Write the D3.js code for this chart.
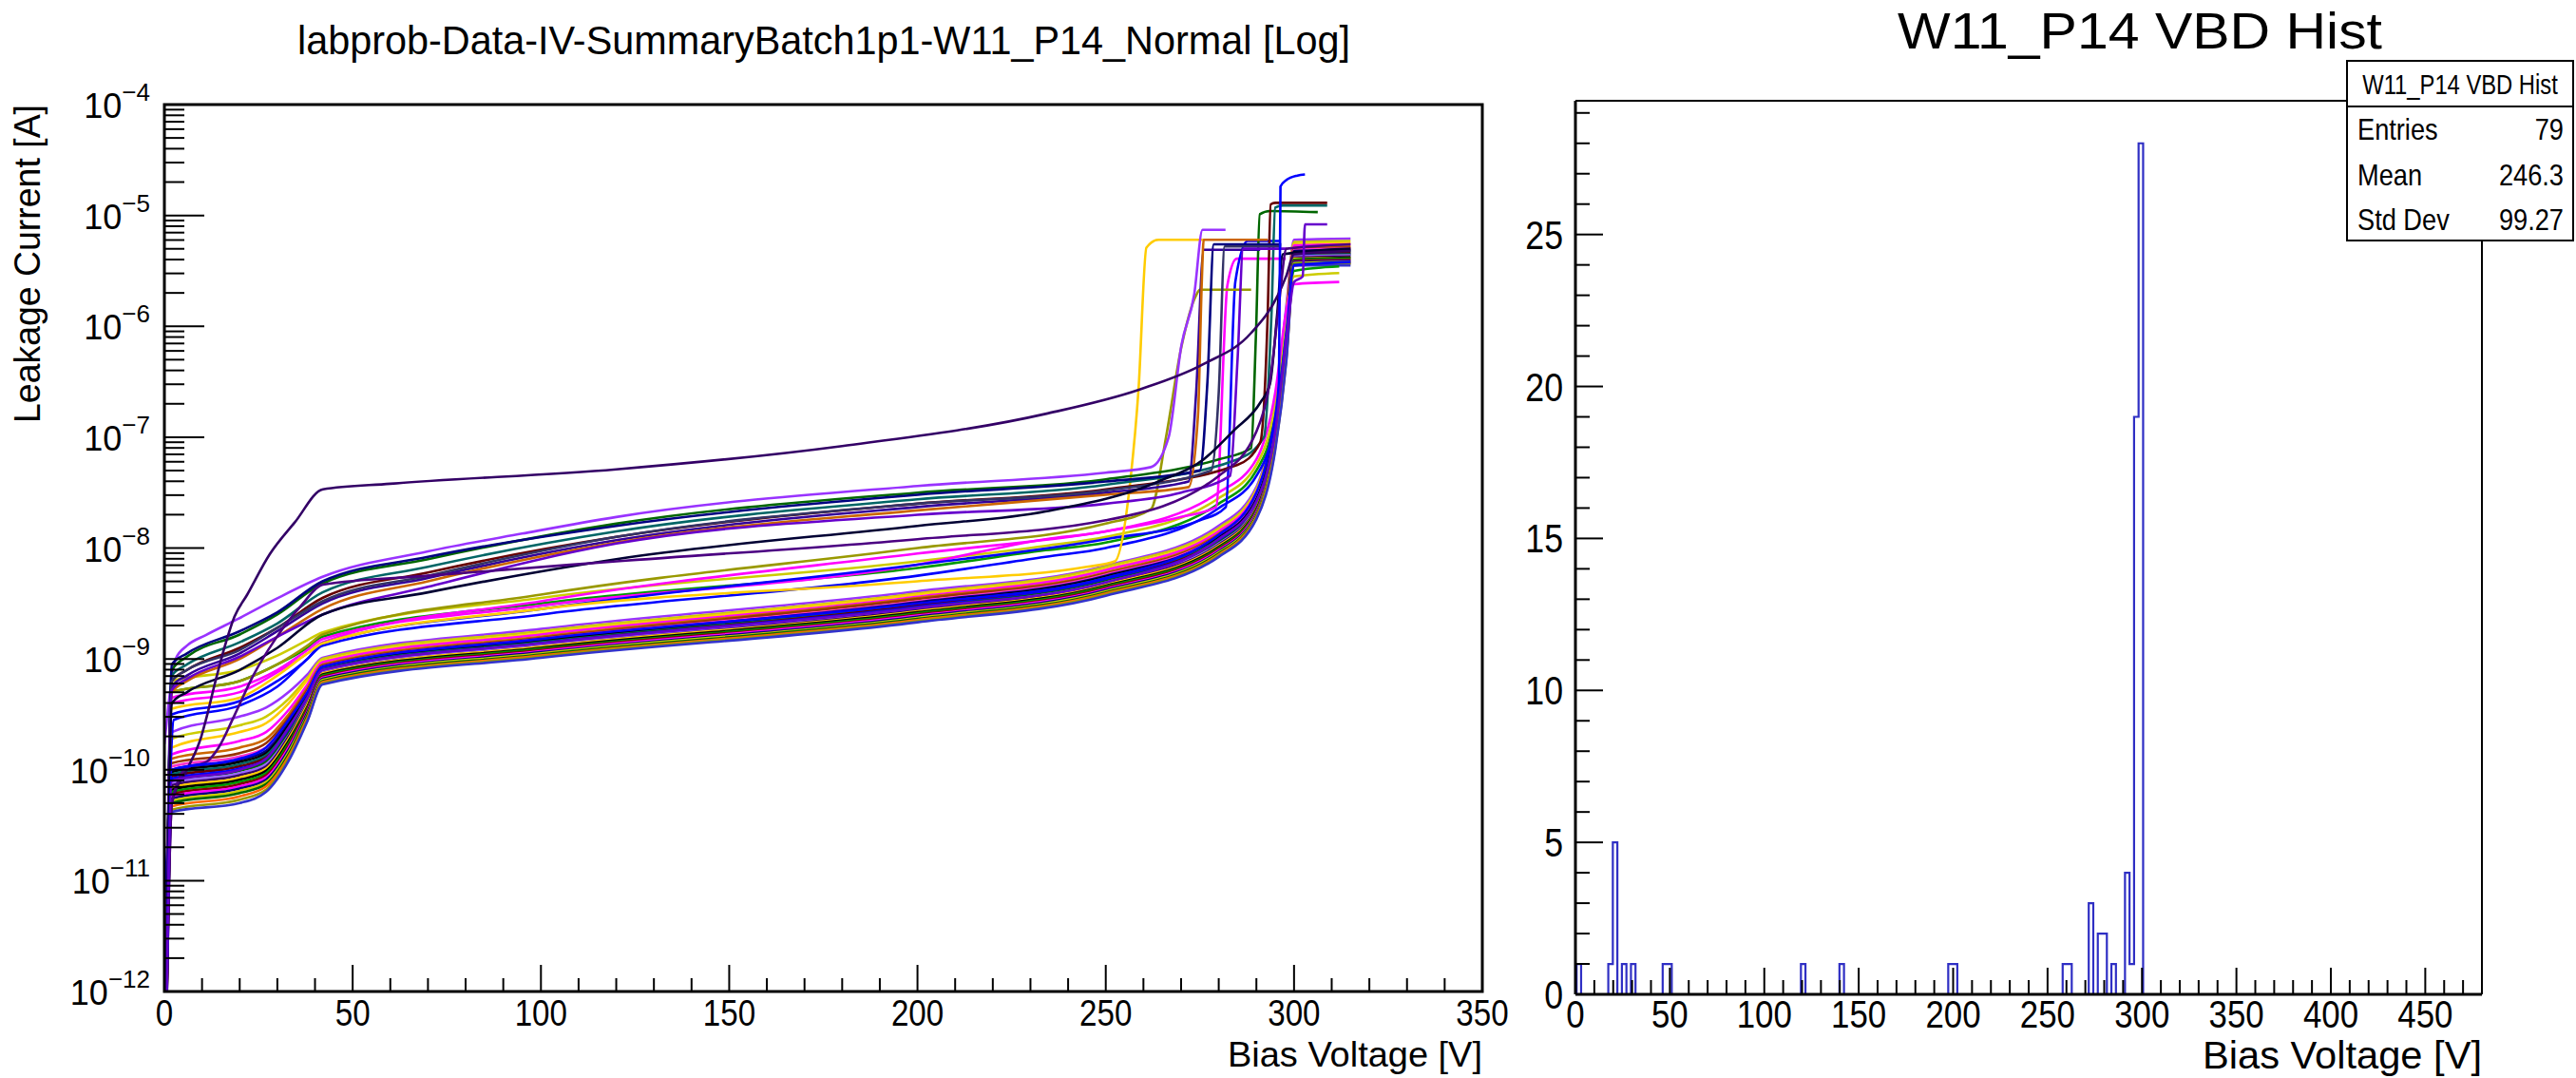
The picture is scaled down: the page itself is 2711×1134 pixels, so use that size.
<!DOCTYPE html>
<html>
<head>
<meta charset="utf-8">
<script src="https://cdn.jsdelivr.net/npm/d3@7"></script>
<style>
  body { margin: 0; background: #fff; }
  svg { display: block; }
  text { font-family: "Liberation Sans", Arial, Helvetica, sans-serif; fill: #000; }
</style>
</head>
<body>
<svg id="chart" width="2711" height="1134"></svg>
<script>
/// IV CURVES (log10 of leakage current in A) ///
const lowV = [0, 2, 20, 27, 33, 38, 42, 100, 200, 250, 280, 290, 295, 298, 300, 315];
const lowLog = [
  [-13.5, -9.66, -9.52, -9.44, -9.3, -9.14, -8.99, -8.73, -8.39, -8.16, -7.8, -7.45, -6.72, -5.8, -5.22, -5.21],
  [-13.5, -9.72, -9.6, -9.52, -9.36, -9.17, -9.0, -8.75, -8.41, -8.17, -7.82, -7.47, -6.75, -5.85, -5.24, -5.23],
  [-13.5, -9.8, -9.66, -9.58, -9.4, -9.19, -9.02, -8.77, -8.42, -8.19, -7.84, -7.49, -6.78, -5.88, -5.26, -5.25],
  [-13.5, -9.86, -9.74, -9.66, -9.46, -9.23, -9.03, -8.78, -8.44, -8.2, -7.85, -7.5, -6.8, -5.9, -5.27, -5.26],
  [-13.5, -9.9, -9.8, -9.72, -9.5, -9.26, -9.05, -8.8, -8.45, -8.22, -7.87, -7.52, -6.83, -5.94, -5.29, -5.28],
  [-13.5, -9.94, -9.85, -9.76, -9.53, -9.28, -9.06, -8.81, -8.46, -8.23, -7.88, -7.53, -6.85, -5.96, -5.3, -5.29],
  [-13.5, -9.97, -9.88, -9.8, -9.56, -9.3, -9.07, -8.82, -8.48, -8.24, -7.89, -7.55, -6.86, -5.98, -5.31, -5.3],
  [-13.5, -10.0, -9.91, -9.83, -9.58, -9.31, -9.08, -8.83, -8.49, -8.25, -7.9, -7.56, -6.88, -6.0, -5.32, -5.31],
  [-13.5, -10.02, -9.93, -9.85, -9.6, -9.33, -9.08, -8.84, -8.5, -8.26, -7.91, -7.57, -6.9, -6.02, -5.33, -5.32],
  [-13.5, -10.04, -9.95, -9.87, -9.62, -9.34, -9.09, -8.85, -8.51, -8.27, -7.92, -7.58, -6.91, -6.04, -5.34, -5.33],
  [-13.5, -10.06, -9.97, -9.89, -9.64, -9.35, -9.1, -8.86, -8.52, -8.28, -7.93, -7.59, -6.92, -6.05, -5.35, -5.34],
  [-13.5, -10.08, -9.99, -9.91, -9.65, -9.36, -9.1, -8.86, -8.53, -8.29, -7.94, -7.6, -6.93, -6.07, -5.36, -5.35],
  [-13.5, -10.1, -10.01, -9.93, -9.67, -9.38, -9.11, -8.87, -8.54, -8.3, -7.95, -7.61, -6.94, -6.08, -5.37, -5.35],
  [-13.5, -10.12, -10.03, -9.95, -9.69, -9.39, -9.12, -8.88, -8.55, -8.31, -7.96, -7.62, -6.95, -6.1, -5.37, -5.36],
  [-13.5, -10.14, -10.05, -9.97, -9.7, -9.4, -9.13, -8.89, -8.56, -8.32, -7.97, -7.63, -6.96, -6.11, -5.38, -5.37],
  [-13.5, -10.16, -10.07, -9.99, -9.72, -9.41, -9.13, -8.89, -8.57, -8.33, -7.98, -7.64, -6.97, -6.13, -5.39, -5.38],
  [-13.5, -10.18, -10.09, -10.01, -9.74, -9.43, -9.14, -8.9, -8.58, -8.34, -7.99, -7.65, -6.98, -6.14, -5.4, -5.38],
  [-13.5, -10.2, -10.11, -10.03, -9.76, -9.44, -9.15, -8.91, -8.59, -8.35, -8.0, -7.66, -6.99, -6.16, -5.4, -5.39],
  [-13.5, -10.22, -10.13, -10.05, -9.78, -9.45, -9.16, -8.92, -8.6, -8.36, -8.01, -7.67, -7.0, -6.17, -5.41, -5.4],
  [-13.5, -10.24, -10.15, -10.07, -9.8, -9.47, -9.17, -8.93, -8.61, -8.37, -8.02, -7.68, -7.01, -6.19, -5.42, -5.41],
  [-13.5, -10.26, -10.17, -10.09, -9.82, -9.48, -9.18, -8.94, -8.62, -8.38, -8.03, -7.69, -7.02, -6.2, -5.42, -5.41],
  [-13.5, -10.28, -10.19, -10.11, -9.84, -9.5, -9.19, -8.95, -8.63, -8.39, -8.04, -7.7, -7.04, -6.22, -5.43, -5.42],
  [-13.5, -10.3, -10.21, -10.13, -9.86, -9.51, -9.2, -8.96, -8.64, -8.4, -8.05, -7.71, -7.06, -6.24, -5.44, -5.43],
  [-13.5, -10.33, -10.24, -10.15, -9.88, -9.53, -9.21, -8.97, -8.65, -8.41, -8.06, -7.72, -7.08, -6.26, -5.45, -5.43],
  [-13.5, -10.36, -10.27, -10.18, -9.9, -9.55, -9.22, -8.98, -8.66, -8.42, -8.07, -7.73, -7.1, -6.28, -5.45, -5.44],
  [-13.5, -10.38, -10.3, -10.2, -9.92, -9.56, -9.23, -8.99, -8.67, -8.43, -8.08, -7.74, -7.12, -6.3, -5.45, -5.45],
];
const lowColors = ["#9933ff", "#cccc00", "#ffcc00", "#ff00ff", "#cc6600", "#993300", "#ff33cc", "#000080",
  "#000000", "#006666", "#660000", "#0000ff", "#006600", "#9966ff", "#330066", "#ffcc00", "#000000",
  "#009900", "#800000", "#ff00ff", "#000080", "#cccc00", "#006600", "#ff6600", "#999900", "#3333cc"];

// [V, log10 I] pairs
const midCurves = [
  [[0, -13.5], [2, -9.3], [20, -9.2], [30, -9.05], [38, -8.9], [42, -8.8], [100, -8.5], [200, -8.18], [234, -8.02], [250, -7.95], [280, -7.6], [290, -7.3], [295, -6.8], [298, -6.0], [300, -5.5], [312, -5.46]],
  [[0, -13.5], [2, -9.2], [20, -9.1], [30, -8.97], [38, -8.83], [42, -8.76], [100, -8.45], [200, -8.12], [234, -7.98], [250, -7.9], [280, -7.55], [290, -7.25], [295, -6.7], [298, -5.9], [300, -5.55], [312, -5.52]],
  [[0, -13.5], [2, -9.35], [20, -9.25], [30, -9.1], [38, -8.92], [42, -8.82], [100, -8.52], [200, -8.15], [234, -7.92], [250, -7.85], [280, -7.5], [290, -7.2], [295, -6.6], [298, -5.85], [300, -5.62], [312, -5.6]],
  [[0, -11.3], [1, -10.5], [2.5, -9.55], [20, -9.42], [30, -9.25], [38, -9.0], [42, -8.88], [100, -8.6], [200, -8.25], [234, -8.08], [250, -8.0], [280, -7.64], [290, -7.35], [295, -6.85], [298, -6.05], [300, -5.45], [315, -5.42]],
  [[0, -13.5], [2, -9.4], [20, -9.3], [30, -9.12], [38, -8.95], [42, -8.85], [100, -8.48], [200, -8.05], [250, -7.85], [270, -7.72], [279.3, -7.63], [282.3, -5.63], [284.8, -5.39], [297.8, -5.39]],
  [[0, -13.5], [2, -9.5], [20, -9.38], [30, -9.2], [38, -9.0], [42, -8.86], [100, -8.55], [200, -8.15], [250, -7.92], [275, -7.75], [281.9, -7.63], [284.4, -5.6], [287.7, -5.23], [296.4, -5.23]],
  [[0, -13.5], [2, -9.45], [20, -9.35], [30, -9.15], [38, -8.95], [42, -8.86], [100, -8.55], [200, -8.3], [245, -8.17], [252.4, -8.12], [256.6, -7.37], [258.7, -6.57], [260.8, -5.29], [264, -5.22], [276, -5.22]],
  [[0, -13.5], [2, -9.3], [20, -9.2], [30, -9.05], [38, -8.88], [42, -8.78], [100, -8.42], [200, -8.0], [250, -7.78], [262, -7.65], [266, -7.0], [270, -6.2], [274, -5.72], [275, -5.67], [288.6, -5.67]],
];
const midColors = ["#009900", "#cccc00", "#ff00ff", "#0000ff", "#ff00ff", "#0000ff", "#ffcc00", "#999900"];

const highCurves = [
  [[0, -9.77], [3, -9.0], [6, -8.88], [11, -8.785], [19.5, -8.64], [29.6, -8.46], [42, -8.26], [70, -8.03], [95, -7.87], [120, -7.72], [200, -7.44], [250, -7.32], [262, -7.27], [266.7, -7.0], [270.1, -6.17], [273.5, -5.71], [275.7, -5.13], [281.8, -5.13]],
  [[0, -13.5], [2, -9.1], [6, -8.98], [20, -8.78], [30, -8.6], [42, -8.32], [70, -8.1], [120, -7.78], [200, -7.5], [250, -7.38], [280, -7.2], [288.6, -7.1], [289.9, -6.06], [290.9, -4.99], [293.6, -4.96], [306.3, -4.97]],
  [[0, -13.5], [2, -9.15], [6, -9.05], [20, -8.85], [30, -8.68], [42, -8.4], [70, -8.17], [120, -7.85], [200, -7.56], [250, -7.43], [285, -7.2], [292, -7.0], [294, -5.9], [295, -4.93], [297, -4.91], [308.8, -4.91]],
  [[0, -13.5], [2, -9.2], [6, -9.1], [20, -8.9], [30, -8.72], [42, -8.45], [70, -8.22], [120, -7.9], [200, -7.6], [250, -7.47], [285, -7.25], [291, -7.05], [293, -5.9], [293.8, -4.9], [295, -4.886], [308.8, -4.886]],
  [[0, -13.5], [2, -9.05], [6, -8.95], [20, -8.75], [30, -8.58], [42, -8.3], [70, -8.08], [120, -7.8], [200, -7.52], [250, -7.4], [275, -7.3], [277, -6.5], [278.7, -5.26], [296.6, -5.26]],
  [[0, -13.5], [2, -9.25], [6, -9.15], [20, -8.95], [30, -8.75], [42, -8.5], [70, -8.27], [120, -7.93], [200, -7.63], [250, -7.5], [272, -7.4], [274, -6.6], [276, -5.31], [291, -5.31]],
  [[0, -13.5], [2, -9.3], [6, -9.2], [20, -9.0], [30, -8.8], [42, -8.55], [70, -8.3], [120, -7.95], [200, -7.66], [250, -7.52], [272, -7.45], [274.5, -6.8], [275.5, -5.6], [276, -5.22], [293, -5.22]],
  [[0, -13.5], [2, -9.2], [6, -9.1], [20, -8.92], [30, -8.72], [42, -8.48], [70, -8.25], [120, -7.9], [200, -7.6], [250, -7.48], [278, -7.3], [280, -6.6], [281.6, -5.28], [296.6, -5.28]],
  [[0, -13.5], [2, -9.28], [6, -9.18], [20, -8.98], [30, -8.8], [42, -8.6], [70, -8.35], [120, -7.96], [200, -7.7], [250, -7.6], [270, -7.5], [283, -7.35], [285, -6.3], [286.5, -5.3], [298, -5.3]],
  [[0, -13.5], [2, -9.4], [6, -9.3], [20, -9.1], [30, -8.9], [42, -8.6], [70, -8.4], [120, -8.1], [200, -7.8], [234, -7.67], [264, -7.4], [276, -7.2], [284, -6.94], [291, -6.69], [293.6, -6.52], [295.5, -5.9], [297, -5.35], [315, -5.3]],
];
const highColors = ["#9933ff", "#006600", "#006666", "#660000", "#000080", "#330099", "#cc6600", "#333366", "#6600cc", "#000033"];

const oddCurves = [
  [[0, -13.5], [2, -10.3], [6, -10.0], [9.8, -9.7], [11.1, -9.54], [13.5, -9.21], [16.1, -8.88], [18.6, -8.62], [22, -8.42], [27.9, -8.06], [34.6, -7.77], [42.1, -7.47], [60, -7.42], [120, -7.29], [180, -7.08], [234, -6.79], [259, -6.57], [276, -6.34], [288.6, -6.06], [295.7, -5.72], [298, -5.54], [300, -5.35], [315, -5.32]],
  [[0, -13.5], [2, -10.3], [6, -9.98], [11.1, -9.93], [14.4, -9.8], [18.6, -9.51], [23.6, -9.15], [29.5, -8.82], [36.3, -8.52], [42.1, -8.33], [70, -8.25], [120, -8.12], [200, -7.92], [250, -7.75], [280, -7.35], [290, -6.95], [294, -6.4], [296, -5.8], [298, -5.3], [315, -5.26]],
  [[0, -13.5], [2, -10.0], [20, -9.9], [27, -9.8], [33, -9.55], [38, -9.3], [42, -9.07], [100, -8.82], [200, -8.5], [250, -8.27], [280, -7.88], [290, -7.5], [294, -7.0], [296, -6.5], [296.4, -4.74], [298, -4.68], [300.9, -4.64], [302.9, -4.63]],
  [[0, -13.5], [2, -10.1], [20, -10.0], [27, -9.9], [33, -9.62], [38, -9.35], [42, -9.1], [100, -8.86], [200, -8.54], [250, -8.31], [280, -7.92], [290, -7.58], [295, -6.95], [298, -6.1], [300, -5.6], [302.3, -5.55], [302.9, -5.08], [308.8, -5.08]],
];
const oddColors = ["#330066", "#4b0082", "#0000ff", "#6600cc"];

/// VBD HISTOGRAM (bin centres in V, counts) ///
const histBinWidth = 2.4;
const histCenters = [1.8, 18.6, 21.0, 25.8, 30.6, 47.4, 49.8, 120.6, 141.0, 198.6, 201.0, 259.2, 261.6, 273.0, 277.8, 280.2, 285.0, 292.2, 294.6, 297.0, 299.4];
const histCounts = [1, 1, 5, 1, 1, 1, 1, 1, 1, 1, 1, 1, 1, 3, 2, 2, 1, 4, 1, 19, 28];

const statsTitle = "W11_P14 VBD Hist";
const statsLabels = ["Entries", "Mean", "Std Dev"];
const statsValues = ["79", "246.3", "99.27"];

const leftXTickLabels = ["0", "50", "100", "150", "200", "250", "300", "350"];
const leftYExponents = [-12, -11, -10, -9, -8, -7, -6, -5, -4];
const rightXTickLabels = ["0", "50", "100", "150", "200", "250", "300", "350", "400", "450"];
const rightYTickLabels = ["0", "5", "10", "15", "20", "25"];

const svg = d3.select("#chart");

// narrow helvetica-ish text like the ROOT output
function narrowText(g, x, y, str, size, anchor, sx) {
  return g.append("text")
    .attr("transform", `translate(${x},${y}) scale(${sx},1)`)
    .attr("text-anchor", anchor)
    .style("font-size", size + "px")
    .text(str);
}

/// LEFT: IV CURVES ///
const L = { x0: 173, x1: 1560, y0: 110, y1: 1043 };
const xL = d3.scaleLinear().domain([0, 350]).range([L.x0, L.x1]);
const yL = d3.scaleLog().domain([1e-12, 1e-4]).range([L.y1, L.y0]);

svg.append("defs").append("clipPath").attr("id", "clipL")
  .append("rect").attr("x", L.x0).attr("y", L.y0)
  .attr("width", L.x1 - L.x0).attr("height", L.y1 - L.y0);

const ivLine = d3.line()
  .x((d) => xL(d[0]))
  .y((d) => yL(Math.pow(10, d[1])))
  .curve(d3.curveMonotoneX);

const gCurves = svg.append("g").attr("clip-path", "url(#clipL)")
  .attr("fill", "none").attr("stroke-width", 2.6).attr("stroke-linejoin", "round");

lowLog.forEach((row, k) => {
  gCurves.append("path")
    .attr("d", ivLine(lowV.map((v, i) => [v, row[i]])))
    .attr("stroke", lowColors[k % lowColors.length]);
});
[[midCurves, midColors], [highCurves, highColors], [oddCurves, oddColors]].forEach(([set, cols]) => {
  set.forEach((pts, k) => {
    gCurves.append("path").attr("d", ivLine(pts)).attr("stroke", cols[k]);
  });
});

// frame
svg.append("rect").attr("x", L.x0).attr("y", L.y0)
  .attr("width", L.x1 - L.x0).attr("height", L.y1 - L.y0)
  .attr("fill", "none").attr("stroke", "#000").attr("stroke-width", 3);

// x ticks
const gAxL = svg.append("g").attr("stroke", "#000").attr("stroke-width", 2);
xL.ticks(35).forEach((t) => {
  const len = t % 50 === 0 ? 28 : 14;
  gAxL.append("line").attr("x1", xL(t)).attr("x2", xL(t)).attr("y1", L.y1).attr("y2", L.y1 - len);
});
// y ticks (log, minor 2..9)
yL.ticks().forEach((t) => {
  const lg = Math.log10(t);
  const major = Math.abs(lg - Math.round(lg)) < 1e-6;
  gAxL.append("line").attr("x1", L.x0).attr("x2", L.x0 + (major ? 42 : 21))
    .attr("y1", yL(t)).attr("y2", yL(t));
});

leftXTickLabels.forEach((s) => {
  narrowText(svg, xL(+s), 1079, s, 39, "middle", 0.85);
});
leftYExponents.forEach((e) => {
  const t = svg.append("text")
    .attr("x", 158).attr("y", yL(Math.pow(10, e)) + 14)
    .attr("text-anchor", "end")
    .style("font-size", "36px");
  t.append("tspan").text("10");
  t.append("tspan").attr("dy", -18).style("font-size", "26px").text("\u2212" + Math.abs(e));
});

svg.append("text").attr("x", 867).attr("y", 57).attr("text-anchor", "middle")
  .attr("textLength", 1108).attr("lengthAdjust", "spacingAndGlyphs")
  .style("font-size", "42px").text("labprob-Data-IV-SummaryBatch1p1-W11_P14_Normal [Log]");
svg.append("text").attr("x", L.x1).attr("y", 1122).attr("text-anchor", "end")
  .attr("textLength", 268).attr("lengthAdjust", "spacingAndGlyphs")
  .style("font-size", "37px").text("Bias Voltage [V]");
svg.append("text").attr("transform", `translate(42,${L.y0}) rotate(-90)`).attr("text-anchor", "end")
  .attr("textLength", 335).attr("lengthAdjust", "spacingAndGlyphs")
  .style("font-size", "38px").text("Leakage Current [A]");

/// RIGHT: VBD HISTOGRAM ///
const R = { x0: 1658, x1: 2612, y0: 106, y1: 1046 };
const xR = d3.scaleLinear().domain([0, 480]).range([R.x0, R.x1]);
const yR = d3.scaleLinear().domain([0, 29.4]).range([R.y1, R.y0]);

// step outline
const stepPts = [[0, 0]];
let prevRight = null;
histCenters.forEach((c, i) => {
  const l = Math.max(0, c - histBinWidth / 2), r = c + histBinWidth / 2;
  const adjacent = prevRight !== null && Math.abs(l - prevRight) < 1e-6;
  if (!adjacent) {
    if (prevRight !== null) stepPts.push([prevRight, 0]);
    stepPts.push([l, 0]);
  }
  stepPts.push([l, histCounts[i]]);
  stepPts.push([r, histCounts[i]]);
  prevRight = r;
});
stepPts.push([prevRight, 0]);
stepPts.push([480, 0]);

svg.append("path")
  .attr("d", d3.line().x((d) => xR(d[0])).y((d) => yR(d[1]))(stepPts))
  .attr("fill", "none").attr("stroke", "#2f2fc4").attr("stroke-width", 2.2);

const gAxR = svg.append("g").attr("stroke", "#000").attr("stroke-width", 2);
gAxR.append("line").attr("x1", R.x0).attr("x2", R.x1).attr("y1", R.y1).attr("y2", R.y1).attr("stroke-width", 3);
gAxR.append("line").attr("x1", R.x0).attr("x2", R.x0).attr("y1", R.y0).attr("y2", R.y1).attr("stroke-width", 3);
gAxR.append("line").attr("x1", R.x0).attr("x2", R.x1).attr("y1", R.y0).attr("y2", R.y0);
gAxR.append("line").attr("x1", R.x1).attr("x2", R.x1).attr("y1", R.y0).attr("y2", R.y1);

xR.ticks(48).forEach((t) => {
  const len = t % 50 === 0 ? 28 : 15;
  gAxR.append("line").attr("x1", xR(t)).attr("x2", xR(t)).attr("y1", R.y1).attr("y2", R.y1 - len);
});
yR.ticks(29).forEach((t) => {
  const len = t % 5 === 0 ? 29 : 15;
  gAxR.append("line").attr("x1", R.x0).attr("x2", R.x0 + len).attr("y1", yR(t)).attr("y2", yR(t));
});

rightXTickLabels.forEach((s) => {
  narrowText(svg, xR(+s), 1081, s, 41, "middle", 0.85);
});
rightYTickLabels.forEach((s) => {
  narrowText(svg, 1645, yR(+s) + 15, s, 42, "end", 0.85);
});

svg.append("text").attr("x", 2252).attr("y", 51).attr("text-anchor", "middle")
  .attr("textLength", 510).attr("lengthAdjust", "spacingAndGlyphs")
  .style("font-size", "53px").text("W11_P14 VBD Hist");
svg.append("text").attr("x", 2612).attr("y", 1124).attr("text-anchor", "end")
  .attr("textLength", 294).attr("lengthAdjust", "spacingAndGlyphs")
  .style("font-size", "40px").text("Bias Voltage [V]");

// stats box
const S = { x: 2470, y: 64, w: 238, h: 189, sep: 112 };
svg.append("rect").attr("x", S.x).attr("y", S.y).attr("width", S.w).attr("height", S.h)
  .attr("fill", "#fff").attr("stroke", "#000").attr("stroke-width", 2);
svg.append("line").attr("x1", S.x).attr("x2", S.x + S.w).attr("y1", S.sep).attr("y2", S.sep)
  .attr("stroke", "#000").attr("stroke-width", 2);
narrowText(svg, S.x + S.w / 2, 99, statsTitle, 29, "middle", 0.82);
const rowY = [147, 195, 242];
statsLabels.forEach((lab, i) => {
  narrowText(svg, S.x + 11, rowY[i], lab, 32, "start", 0.85);
  narrowText(svg, S.x + S.w - 10, rowY[i], statsValues[i], 32, "end", 0.85);
});
</script>
</body>
</html>
